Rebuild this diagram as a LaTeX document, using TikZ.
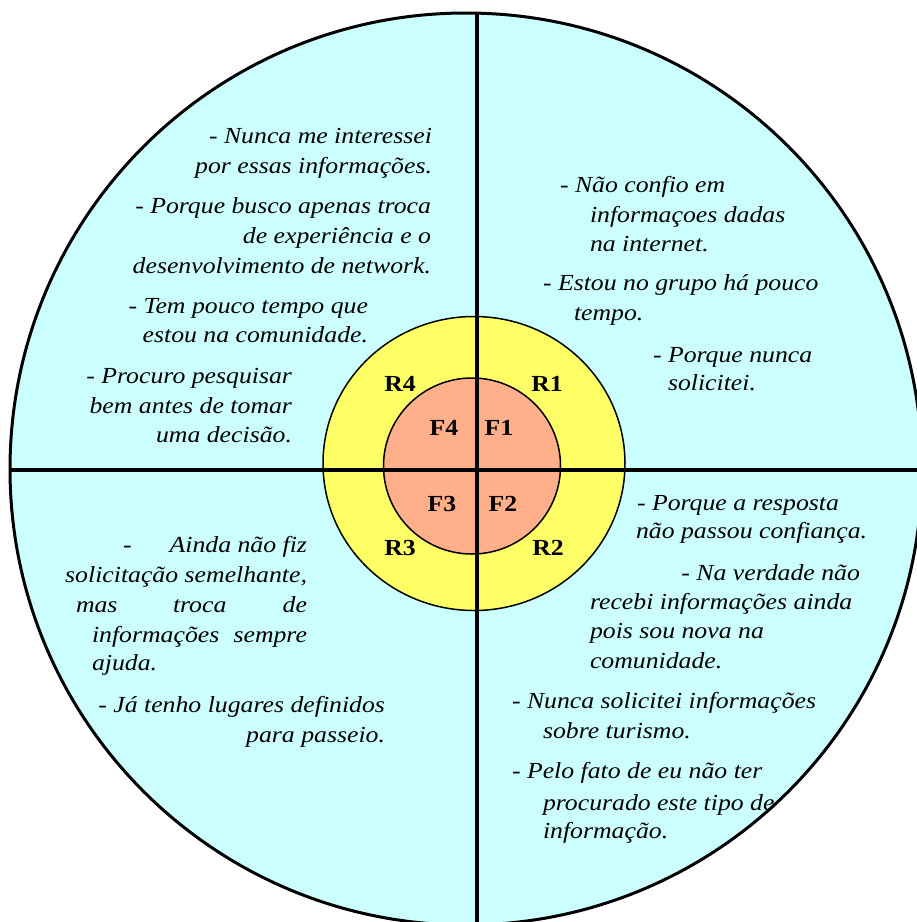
\documentclass[tikz,border=0pt]{standalone}
\usepackage{fontspec}
\setmainfont{Liberation Serif}[FakeStretch=1.12]
\definecolor{cyanfill}{RGB}{204,255,255}
\definecolor{yellowfill}{RGB}{255,255,102}
\definecolor{salmonfill}{RGB}{255,176,138}
\tikzset{
  txt/.style={font=\itshape\fontsize{23}{29}\selectfont, inner sep=0pt, outer sep=0pt},
  lbl/.style={font=\bfseries\fontsize{23}{26}\selectfont, inner sep=0pt, outer sep=0pt, anchor=base},
  axisline/.style={line width=3.5pt, black},
}
\begin{document}
\begin{tikzpicture}[x=1pt,y=-1pt]
\useasboundingbox (0,0) rectangle (917,922);
\clip (0,0) rectangle (917,922);
% outer circle fill
\fill[cyanfill] (466,469) circle [x radius=456, y radius=456];
% inner rings
\filldraw[fill=yellowfill, draw=black, line width=1.5pt] (474,463.5) circle [x radius=151, y radius=147];
\filldraw[fill=salmonfill, draw=black, line width=1.5pt] (472,466) circle [x radius=88.5, y radius=88];
% quadrant lines
\coordinate (vt) at (477,12);
\coordinate (vb) at (477,935);
\coordinate (hl) at (11,470);
\coordinate (hr) at (930,470);
\draw[axisline] (vt) -- (vb);
\draw[axisline] (hl) -- (hr);
% outer border
\draw[line width=3pt] (466,469) circle [x radius=456, y radius=456];

% labels
\node[lbl] (r4) at (400,391) {R4};
\node[lbl] (r1) at (547,391) {R1};
\node[lbl] (f4) at (444,435) {F4};
\node[lbl] (f1) at (499,435) {F1};
\node[lbl] (f3) at (442,511) {F3};
\node[lbl] (f2) at (503,511) {F2};
\node[lbl] (r3) at (400,555) {R3};
\node[lbl] (r2) at (548,555) {R2};

% upper left
\node[txt, anchor=base east] (ul1a) at (432,143) {- Nunca me interessei};
\node[txt, anchor=base east] (ul1b) at (432,173) {por essas informações.};
\node[txt, anchor=base east] (ul2a) at (431,213) {- Porque busco apenas troca};
\node[txt, anchor=base east] (ul2b) at (431,243) {de experiência e o};
\node[txt, anchor=base east] (ul2c) at (431,273) {desenvolvimento de network.};
\node[txt, anchor=base east] (ul3a) at (368,313) {- Tem pouco tempo que};
\node[txt, anchor=base east] (ul3b) at (368,342) {estou na comunidade.};
\node[txt, anchor=base east] (ul4a) at (292,383) {- Procuro pesquisar};
\node[txt, anchor=base east] (ul4b) at (292,413) {bem antes de tomar};
\node[txt, anchor=base east] (ul4c) at (292,442) {uma decisão.};

% upper right
\node[txt, anchor=base west] (ur1a) at (560,192) {- Não confio em};
\node[txt, anchor=base west] (ur1b) at (590,222) {informaçoes dadas};
\node[txt, anchor=base west] (ur1c) at (590,251) {na internet.};
\node[txt, anchor=base west] (ur2a) at (543,290) {- Estou no grupo há pouco};
\node[txt, anchor=base west] (ur2b) at (574,320) {tempo.};
\node[txt, anchor=base west] (ur3a) at (653,362) {- Porque nunca};
\node[txt, anchor=base west] (ur3b) at (668,390) {solicitei.};

% lower right
\node[txt, anchor=base west] (lr1a) at (637,510) {- Porque a resposta};
\node[txt, anchor=base west] (lr1b) at (636,538) {não passou confiança.};
\node[txt, anchor=base east] (lr2a) at (860,580) {- Na verdade não};
\node[txt, anchor=base west] (lr2b) at (590,609) {recebi informações ainda};
\node[txt, anchor=base west] (lr2c) at (590,638) {pois sou nova na};
\node[txt, anchor=base west] (lr2d) at (590,668) {comunidade.};
\node[txt, anchor=base west] (lr3a) at (512,708) {- Nunca solicitei informações};
\node[txt, anchor=base west] (lr3b) at (543,738) {sobre turismo.};
\node[txt, anchor=base west] (lr4a) at (512,778) {- Pelo fato de eu não ter};
\node[txt, anchor=base west] (lr4b) at (543,810) {procurado este tipo de};
\node[txt, anchor=base west] (lr4c) at (543,838) {informação.};

% lower left
\node[txt, anchor=base west] (ll1dash) at (123,552) {-};
\node[txt, anchor=base east] (ll1a) at (307,552) {Ainda não fiz};
\node[txt, anchor=base east] (ll1b) at (307,582) {solicitação semelhante,};
\node[txt, anchor=base west] (ll1c1) at (76,612) {mas};
\node[txt, anchor=base west] (ll1c2) at (173,612) {troca};
\node[txt, anchor=base east] (ll1c3) at (307,612) {de};
\node[txt, anchor=base west] (ll1d1) at (92,642) {informações};
\node[txt, anchor=base east] (ll1d2) at (307,642) {sempre};
\node[txt, anchor=base west] (ll1e) at (92,670) {ajuda.};
\node[txt, anchor=base east] (ll2a) at (385,712) {- Já tenho lugares definidos};
\node[txt, anchor=base east] (ll2b) at (385,742) {para passeio.};
\end{tikzpicture}
\end{document}
